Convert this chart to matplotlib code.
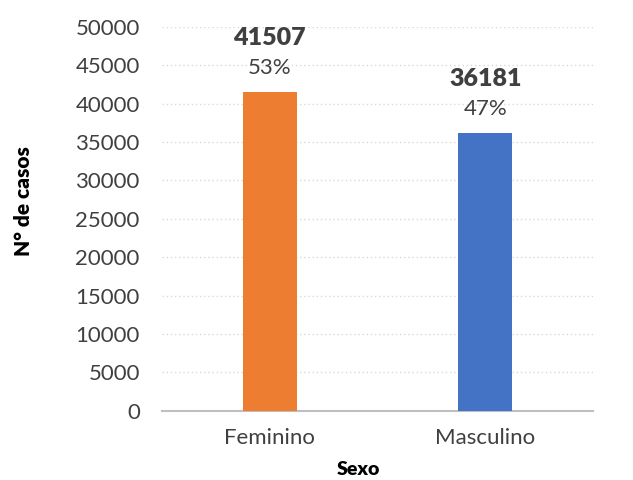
import matplotlib.pyplot as plt

sexo = ["Feminino", "Masculino"]
casos = [41507, 36181]
pct = ["53%", "47%"]
cores = ["#ED7D31", "#4472C4"]

plt.rcParams['font.family'] = ['Lato', 'DejaVu Sans']

fig = plt.figure(figsize=(6.33, 4.8), dpi=100)
ax = fig.add_axes([0.256, 0.144, 0.681, 0.8])

x = range(len(sexo))
ax.bar(x, casos, width=0.25, color=cores, zorder=3)

for i in x:
    ax.annotate(str(casos[i]), (i, casos[i]), xytext=(0, 54), textcoords="offset pixels",
                ha="center", va="center", fontsize=18, fontweight="heavy", color="#404040")
    ax.annotate(pct[i], (i, casos[i]), xytext=(0, 24), textcoords="offset pixels",
                ha="center", va="center", fontsize=16, color="#404040")

ax.set_xlim(-0.5, 1.5)
ax.set_ylim(0, 50000)
ax.set_yticks(range(0, 50001, 5000))
ax.set_xticks(list(x))
ax.set_xticklabels(sexo)
ax.tick_params(axis="both", length=0, labelsize=16, labelcolor="#404040")
ax.tick_params(axis="y", pad=16)
ax.tick_params(axis="x", pad=12)

ax.grid(axis="y", linestyle=(0, (1, 2)), color="#d9d9d9", linewidth=1, zorder=0)
for s in ["top", "right", "left"]:
    ax.spines[s].set_visible(False)
ax.spines["bottom"].set_color("#bfbfbf")
ax.spines["bottom"].set_linewidth(1.5)

ax.set_xlabel("Sexo", fontsize=14, fontweight="heavy", color="black")
ax.set_ylabel("N° de casos", fontsize=15, fontweight="heavy", color="black")
ax.xaxis.set_label_coords(0.455, -0.13)
ax.yaxis.set_label_coords(-0.30, 0.547)

plt.savefig("out.png", dpi=100)
